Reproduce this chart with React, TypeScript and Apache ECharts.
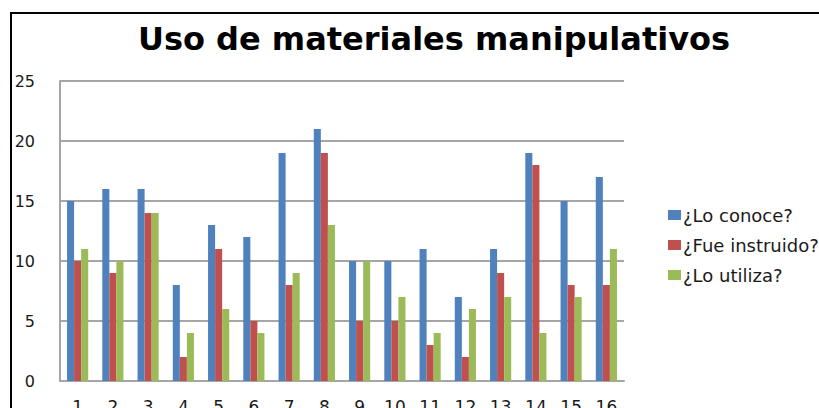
import React, { useEffect, useRef } from "react";
import * as echarts from "echarts";

const categories = ["1", "2", "3", "4", "5", "6", "7", "8", "9", "10", "11", "12", "13", "14", "15", "16"];
const conoce = [15, 16, 16, 8, 13, 12, 19, 21, 10, 10, 11, 7, 11, 19, 15, 17];
const instruido = [10, 9, 14, 2, 11, 5, 8, 19, 5, 5, 3, 2, 9, 18, 8, 8];
const utiliza = [11, 10, 14, 4, 6, 4, 9, 13, 10, 7, 4, 6, 7, 4, 7, 11];
const seriesNames = ["¿Lo conoce?", "¿Fue instruido?", "¿Lo utiliza?"];
const colors = ["#4F81BD", "#C0504D", "#9BBB59"];

export default function App() {
  const ref = useRef<HTMLDivElement>(null);
  useEffect(() => {
    if (!ref.current) return;
    const chart = echarts.init(ref.current, undefined, { renderer: "svg" });
    const font = "'DejaVu Sans', sans-serif";
    const data = [conoce, instruido, utiliza];
    chart.setOption({
      animation: false,
      backgroundColor: "#ffffff",
      title: {
        text: "Uso de materiales manipulativos",
        left: 429,
        textAlign: "center",
        top: 18,
        textStyle: { fontFamily: font, fontWeight: "bold", fontSize: 32, color: "#000" },
      },
      legend: {
        orient: "vertical",
        left: 663,
        top: 201,
        itemWidth: 13,
        itemHeight: 10,
        itemGap: 12,
        icon: "rect",
        textStyle: { fontFamily: font, fontSize: 18, color: "#1a1a1a", padding: [0, 0, 0, -3] },
        data: seriesNames,
      },
      grid: { left: 60, right: 195, top: 81, bottom: 27, containLabel: false, outerBoundsMode: "none" },
      xAxis: {
        type: "category",
        data: categories,
        axisLine: { lineStyle: { color: "#a6a6a6", width: 2 } },
        axisTick: { show: false },
        axisLabel: { fontFamily: font, fontSize: 17, color: "#1a1a1a", margin: 17 },
      },
      yAxis: {
        type: "value",
        min: 0,
        max: 25,
        interval: 5,
        axisLine: { show: true, lineStyle: { color: "#a6a6a6", width: 2 } },
        axisTick: { show: false },
        splitLine: { lineStyle: { color: "#a6a6a6", width: 2 } },
        axisLabel: { fontFamily: font, fontSize: 16, color: "#1a1a1a", margin: 25 },
      },
      series: data.map((d, i) => ({
        name: seriesNames[i],
        type: "bar",
        data: d,
        barGap: "0%",
        barCategoryGap: "40%",
        itemStyle: { color: colors[i] },
      })),
      graphic: [
        {
          type: "rect",
          shape: { x: 11, y: 13, width: 1000, height: 600 },
          style: { fill: "none", stroke: "#000", lineWidth: 2 },
          silent: true,
        },
      ],
    });
    return () => chart.dispose();
  }, []);
  return <div ref={ref} style={{ position: "fixed", left: 0, top: 0, width: 819, height: 408 }} />;
}
